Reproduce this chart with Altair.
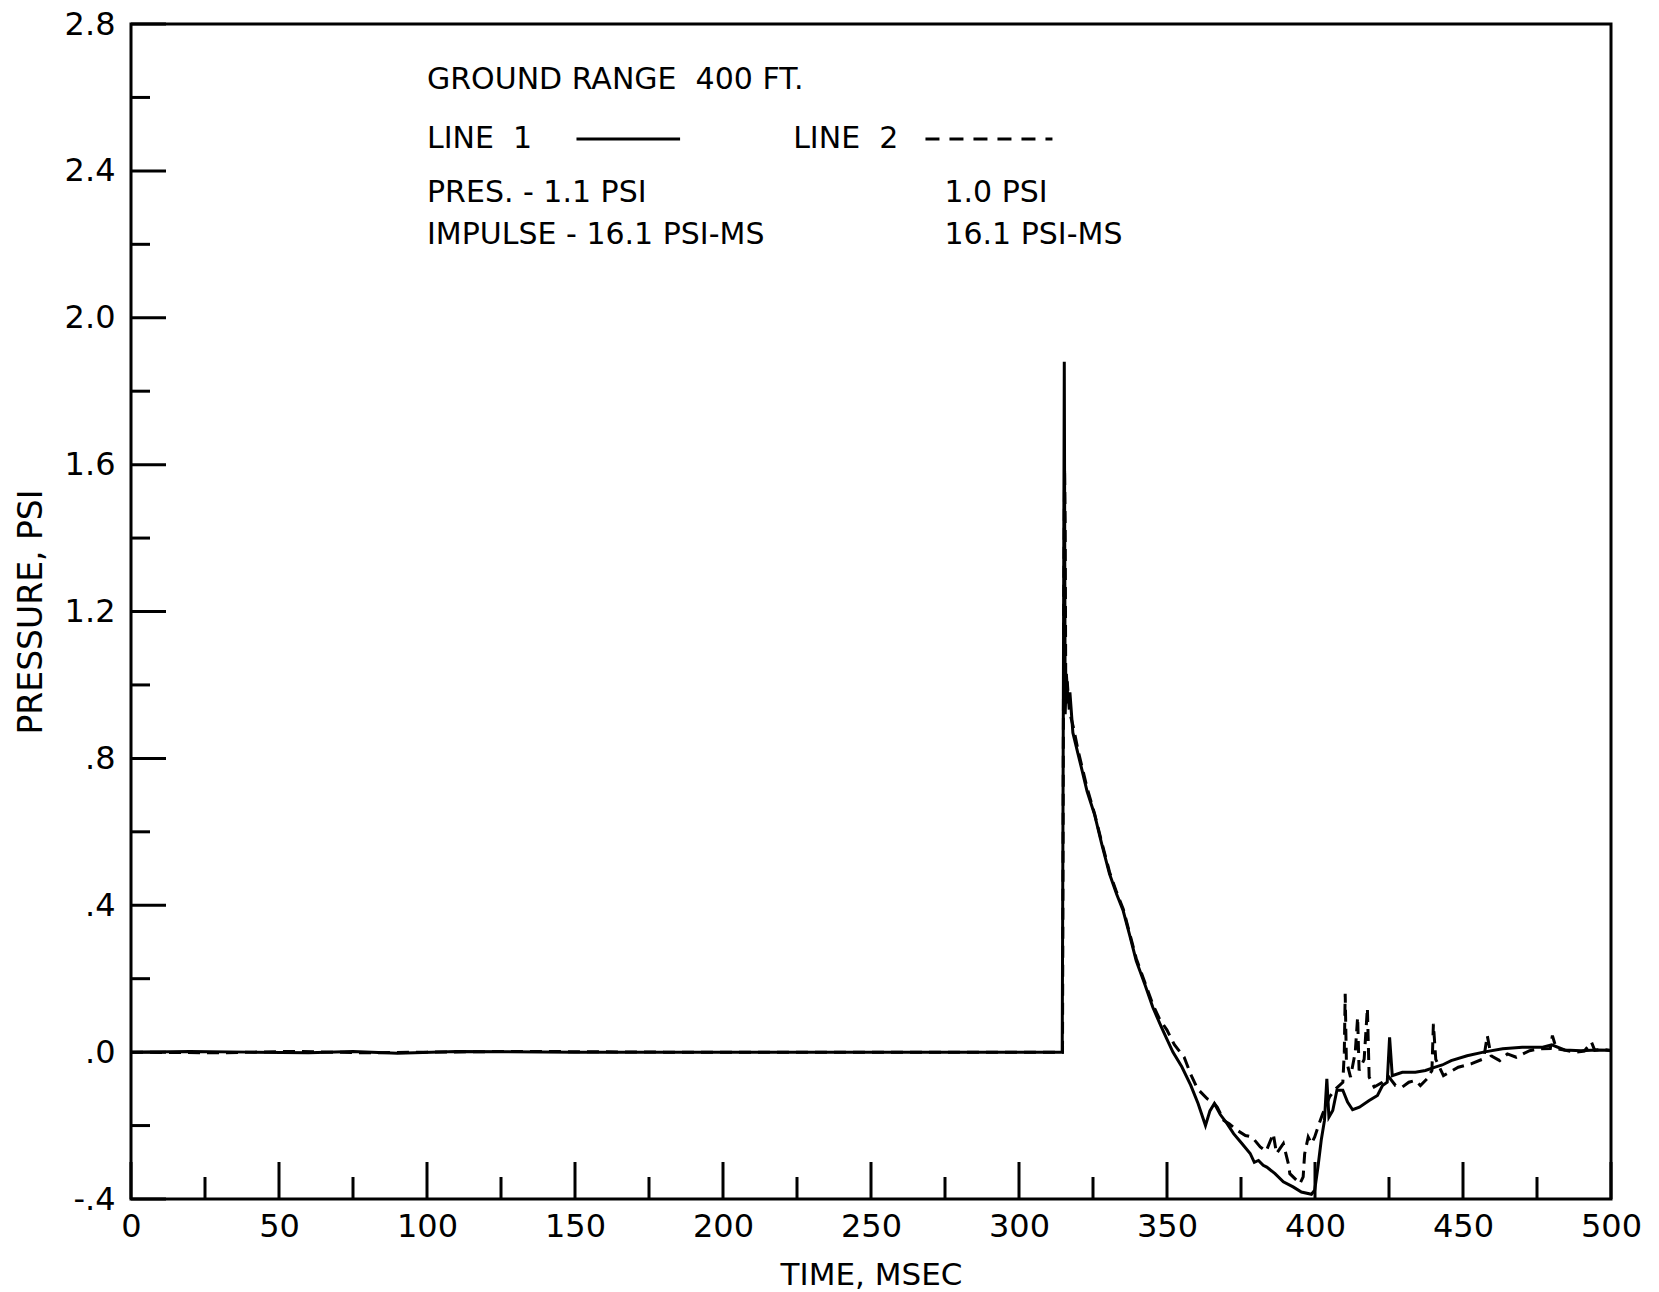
import altair as alt
import pandas as pd

# ---- data ----
line1_t = [0, 20, 40, 60, 75, 90, 110, 150, 200, 250, 300, 314.6,
           315.0, 315.3, 315.6, 316.0, 316.6, 317.2, 318.2, 320.0, 321.1, 323.0,
           325.5, 328.0, 330.6, 333.0, 335.2, 337.5, 339.6, 342.5, 345.2, 348.0,
           350.0, 352.0, 355.0, 358.0, 360.5, 363.0, 364.5, 366.0, 368.0, 370.3,
           372.5, 375.3, 378.1, 379.5, 380.9, 382.5, 383.7, 386.5, 389.3, 392.6,
           395.4, 398.8, 399.9, 401.0, 402.1, 403.2, 404.0, 404.7, 406.0, 407.4,
           409.4, 411.0, 412.7, 415.0, 418.3, 421.1, 422.8, 424.4, 425.2, 426.1,
           429.5, 433.9, 437.3, 440.6, 443.0, 446.0, 451.4, 456.9, 463.4, 470.0,
           476.6, 480.0, 484.3, 489.9, 495.0, 500.0]
line1_p = [0.0, 0.002, 0.0, -0.002, 0.002, -0.003, 0.002, 0.0, 0.0, 0.0, 0.0, 0.0,
           1.00, 1.88, 0.92, 1.03, 0.95, 0.98, 0.87, 0.81, 0.774, 0.71,
           0.648, 0.565, 0.485, 0.43, 0.385, 0.315, 0.249, 0.185, 0.122, 0.07,
           0.035, 0.0, -0.04, -0.09, -0.14, -0.20, -0.16, -0.14, -0.17, -0.195,
           -0.222, -0.249, -0.276, -0.30, -0.295, -0.308, -0.313, -0.331, -0.353, -0.367,
           -0.381, -0.387, -0.376, -0.313, -0.24, -0.186, -0.073, -0.177, -0.159, -0.104,
           -0.104, -0.136, -0.157, -0.15, -0.132, -0.118, -0.091, -0.082, 0.04, -0.064,
           -0.055, -0.055, -0.05, -0.041, -0.035, -0.023, -0.01, 0.0, 0.009, 0.013,
           0.013, 0.02, 0.006, 0.004, 0.006, 0.005]

line2_t = [0, 30, 55, 80, 100, 130, 180, 230, 280, 314.7,
           315.1, 315.4, 315.6, 315.8, 316.3, 317.0, 318.5, 320.0, 323.0, 325.5,
           328.0, 330.6, 333.0, 335.2, 337.5, 339.6, 342.5, 345.2, 347.5, 350.0,
           352.5, 355.8, 358.0, 360.3, 363.6, 365.5, 367.0, 369.2, 371.0, 373.7,
           376.5, 378.7, 381.5, 383.5, 385.9, 387.0, 389.3, 391.0, 391.5, 393.8,
           394.9, 396.0, 396.5, 397.7, 398.8, 399.9, 401.0, 402.5, 404.9, 407.0,
           409.4, 409.9, 410.2, 410.6, 412.0, 413.6, 414.4, 414.9, 416.6, 417.7,
           418.3, 420.0, 422.8, 425.0, 427.2, 429.5, 431.7, 433.9, 435.6, 437.8,
           439.5, 440.0, 440.8, 442.0, 443.4, 448.4, 452.7, 457.0, 458.2, 459.5,
           462.4, 465.0, 468.0, 472.5, 475.8, 479.5, 480.2, 481.5, 484.6, 488.0,
           491.0, 493.4, 494.5, 497.0, 500.0]
line2_p = [0.0, -0.002, 0.002, -0.002, 0.0, 0.002, 0.0, 0.0, 0.0, 0.0,
           1.20, 1.59, 1.44, 0.98, 1.01, 0.93, 0.88, 0.82, 0.72, 0.65,
           0.57, 0.49, 0.435, 0.39, 0.32, 0.255, 0.19, 0.13, 0.09, 0.06,
           0.02, -0.014, -0.06, -0.10, -0.127, -0.135, -0.15, -0.186, -0.195, -0.213,
           -0.227, -0.231, -0.258, -0.27, -0.222, -0.276, -0.249, -0.304, -0.331, -0.349,
           -0.358, -0.34, -0.277, -0.231, -0.249, -0.231, -0.204, -0.17, -0.122, -0.10,
           -0.082, 0.0, 0.159, -0.023, -0.068, 0.0, 0.095, -0.05, -0.02, 0.12,
           -0.068, -0.095, -0.082, -0.068, -0.091, -0.095, -0.082, -0.077, -0.091, -0.073,
           -0.05, 0.077, -0.02, -0.04, -0.064, -0.041, -0.032, -0.018, 0.045, -0.01,
           -0.023, -0.005, -0.014, 0.004, 0.009, 0.01, 0.045, 0.01, 0.005, 0.0,
           0.003, 0.027, 0.005, 0.008, 0.004]

x_label_values = [0, 50, 100, 150, 200, 250, 300, 350, 400, 450, 500]
x_minor_ticks = [25, 75, 125, 175, 225, 275, 325, 375, 425, 475]
y_label_values = [-0.4, 0.0, 0.4, 0.8, 1.2, 1.6, 2.0, 2.4, 2.8]
y_tick_labels = ["-.4", ".0", ".4", ".8", "1.2", "1.6", "2.0", "2.4", "2.8"]
y_minor_ticks = [-0.2, 0.2, 0.6, 1.0, 1.4, 1.8, 2.2, 2.6]

NB = "\u00a0"
ann_text = ["GROUND RANGE" + NB + " 400 FT.", "LINE" + NB + " 1", "LINE" + NB + " 2",
            "PRES. - 1.1 PSI", "1.0 PSI", "IMPULSE - 16.1 PSI-MS", "16.1 PSI-MS"]
ann_x = [100, 100, 223.7, 100, 274.8, 100, 274.8]
ann_y = [2.648, 2.487, 2.487, 2.34, 2.34, 2.225, 2.225]

key_solid_x = [150.5, 185.5]
key_dash_x = [268.4, 311.3]
key_y = 2.487

# ---- chart ----
W, H = 1480, 1175
FONT = "DejaVu Sans"

xs = alt.Scale(domain=[0, 500], nice=False, zero=False)
ys = alt.Scale(domain=[-0.4, 2.8], nice=False, zero=False)

df1 = pd.DataFrame({"t": line1_t, "p": line1_p})
df2 = pd.DataFrame({"t": line2_t, "p": line2_p})

label_array = "[" + ",".join("'%s'" % s for s in y_tick_labels) + "]"
y_label_expr = label_array + "[round((datum.value + 0.4) / 0.4)]"

xaxis = alt.Axis(
    values=x_label_values, title="TIME, MSEC", ticks=False, grid=False,
    domain=False, labelFontSize=32, labelFont=FONT, labelColor="black",
    labelPadding=12, titleFont=FONT, titleFontSize=31, titleFontWeight="normal",
    titleColor="black", titlePadding=18, labelFlush=False)
yaxis = alt.Axis(
    values=y_label_values, title="PRESSURE, PSI", ticks=False, grid=False,
    domain=False, labelExpr=y_label_expr, labelFontSize=32, labelFont=FONT,
    labelColor="black", labelPadding=16, titleFont=FONT, titleFontSize=33,
    titleFontWeight="normal", titleColor="black", titlePadding=16,
    labelFlush=False)


def X(field):
    return alt.X(field, scale=xs, axis=xaxis, title="TIME, MSEC")


def Y(field):
    return alt.Y(field, scale=ys, axis=yaxis, title="PRESSURE, PSI")


solid = alt.Chart(df1).mark_line(color="black", strokeWidth=3).encode(
    x=X("t:Q"), y=Y("p:Q"), order="t:Q")

dashed = alt.Chart(df2).mark_line(color="black", strokeWidth=3, strokeDash=[12, 7]).encode(
    x=X("t:Q"), y=Y("p:Q"), order="t:Q")

ymaj = alt.Chart(pd.DataFrame({"v": y_label_values})).mark_rule(color="black", strokeWidth=3).encode(
    y=Y("v:Q"), x=alt.value(0), x2=alt.value(35))
ymin = alt.Chart(pd.DataFrame({"v": y_minor_ticks})).mark_rule(color="black", strokeWidth=3).encode(
    y=Y("v:Q"), x=alt.value(0), x2=alt.value(19))
xmaj = alt.Chart(pd.DataFrame({"v": x_label_values})).mark_rule(color="black", strokeWidth=3).encode(
    x=X("v:Q"), y=alt.value(H), y2=alt.value(H - 37))
xmin = alt.Chart(pd.DataFrame({"v": x_minor_ticks})).mark_rule(color="black", strokeWidth=3).encode(
    x=X("v:Q"), y=alt.value(H), y2=alt.value(H - 22))

texts = alt.Chart(pd.DataFrame({"x": ann_x, "y": ann_y, "s": ann_text})).mark_text(
    align="left", baseline="middle", font=FONT, fontSize=30, color="black").encode(
    x=X("x:Q"), y=Y("y:Q"), text="s:N")

key1 = alt.Chart(pd.DataFrame({"x": [key_solid_x[0]], "x2": [key_solid_x[1]], "y": [key_y]})).mark_rule(
    color="black", strokeWidth=3).encode(x=X("x:Q"), x2="x2:Q", y=Y("y:Q"))
key2 = alt.Chart(pd.DataFrame({"x": [key_dash_x[0]], "x2": [key_dash_x[1]], "y": [key_y]})).mark_rule(
    color="black", strokeWidth=3, strokeDash=[14, 10]).encode(x=X("x:Q"), x2="x2:Q", y=Y("y:Q"))

chart = alt.layer(solid, dashed, ymaj, ymin, xmaj, xmin, texts, key1, key2).properties(
    width=W, height=H,
    autosize=alt.AutoSizeParams(type="none"),
    padding={"left": 123, "top": 16, "right": 40, "bottom": 93},
    background="white",
).configure_view(stroke="black", strokeWidth=3)

chart.save("out.html", embed_options={"renderer": "svg", "actions": False})
